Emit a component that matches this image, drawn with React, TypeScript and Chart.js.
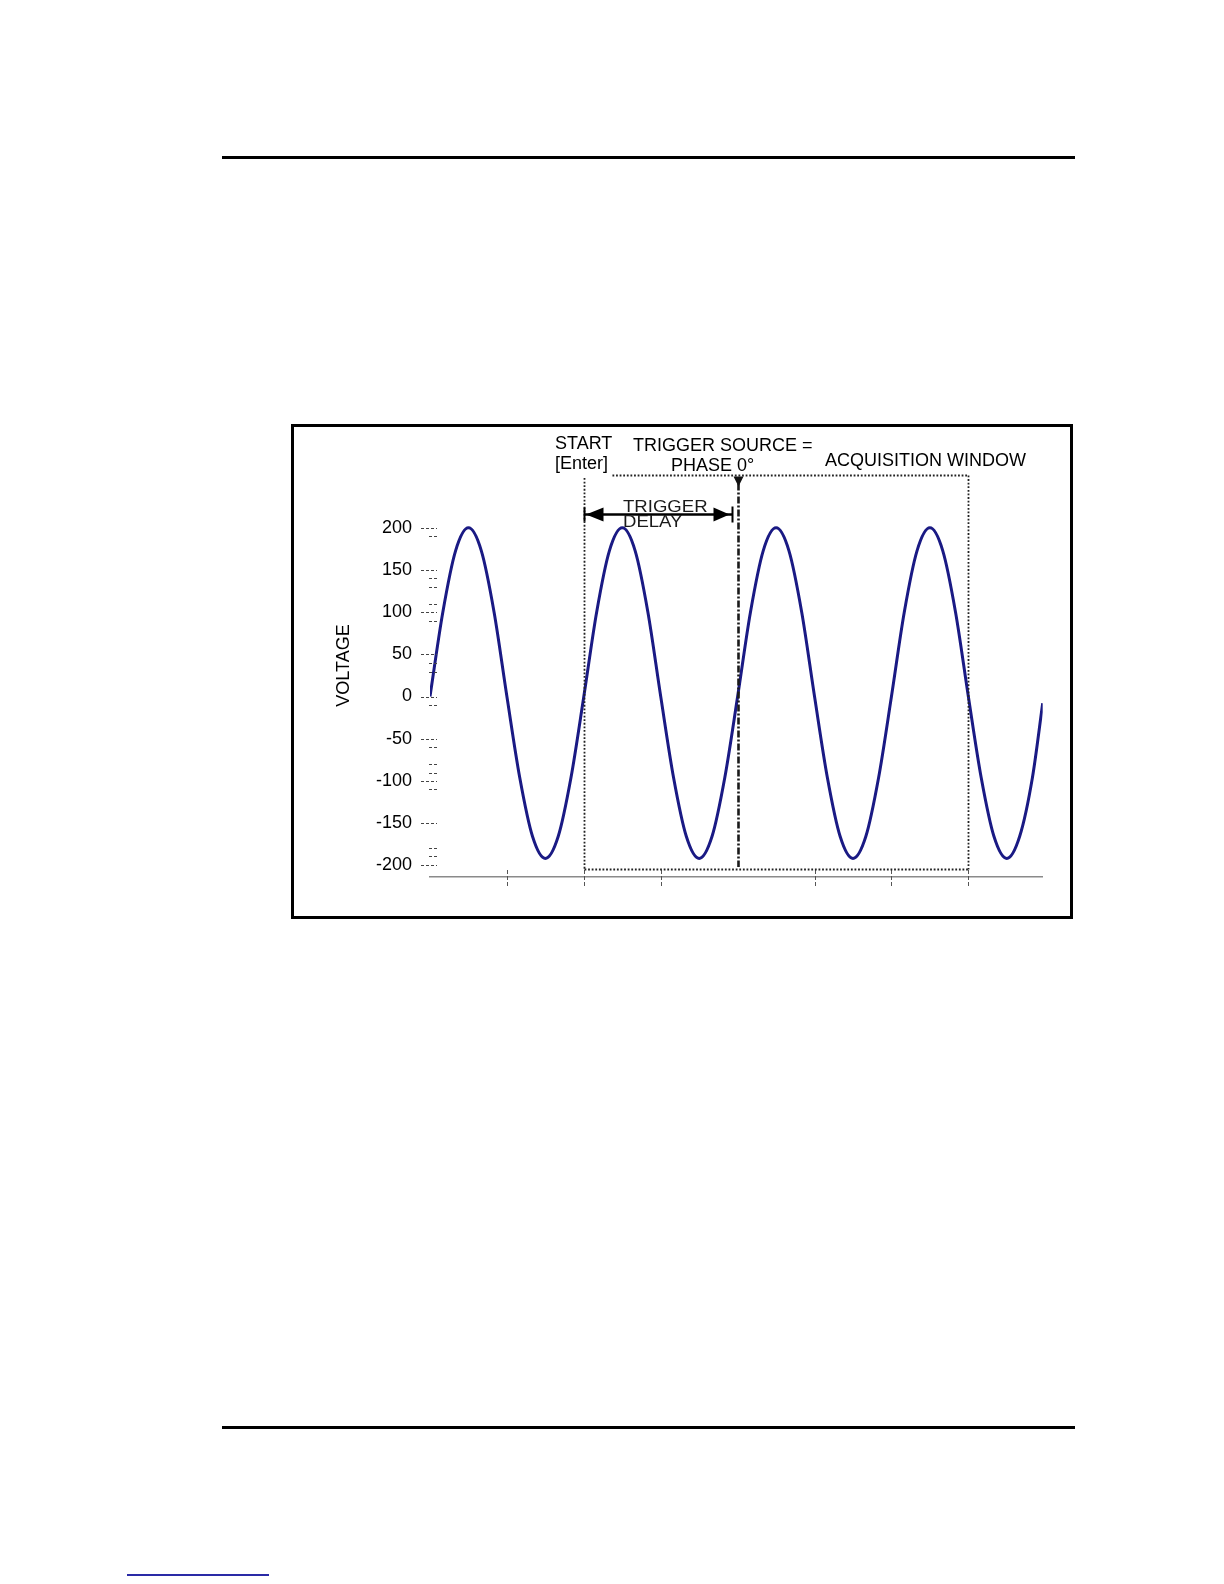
import React, { useEffect, useRef } from 'react';
import { Chart, registerables } from 'chart.js';

Chart.register(...registerables);

// ---- data ----
const phaseDeg = [
  0, 30, 60, 90, 120, 150, 180, 210, 240, 270, 300, 330,
  360, 390, 420, 450, 480, 510, 540, 570, 600, 630, 660, 690,
  720, 750, 780, 810, 840, 870, 900, 930, 960, 990, 1020, 1050,
  1080, 1110, 1140, 1170, 1200, 1230, 1260, 1290, 1320, 1350, 1380, 1410,
  1434,
];
const voltage = [
  0, 100, 173, 200, 173, 100, 0, -96, -166, -192, -166, -96,
  0, 100, 173, 200, 173, 100, 0, -96, -166, -192, -166, -96,
  0, 100, 173, 200, 173, 100, 0, -96, -166, -192, -166, -96,
  0, 100, 173, 200, 173, 100, 0, -96, -166, -192, -166, -96,
  -8,
];
const yTickValues = [200, 150, 100, 50, 0, -50, -100, -150, -200];
const xTickValues = [180, 360, 540, 900, 1080, 1260];

const xMax = 1434;
const windowStartDeg = 360;
const windowEndDeg = 1260;
const triggerDeg = 720;
const windowTopValue = 263;
const windowLeftTopValue = 259;
const windowBottomValue = -204;
const triggerBottomValue = -202;
const delayArrowValue = 216;
const windowTopStartDeg = 427;

// small extra dashes next to the y ticks (pixel offsets), as in the picture
const yMinorOffsets = [[8], [8, 17], [-8, 9], [9, 18], [8], [8], [-17, -8, 8], [], [-17, -9]];

const FONT = '"Liberation Sans", Arial, Helvetica, sans-serif';

const annotationPlugin = {
  id: 'triggerAnnotations',
  afterDraw(chart: any) {
    const ctx: CanvasRenderingContext2D = chart.ctx;
    const xs = chart.scales.x;
    const ys = chart.scales.y;
    const px = (v: number) => xs.getPixelForValue(v);
    const py = (v: number) => ys.getPixelForValue(v);
    const line = (x1: number, y1: number, x2: number, y2: number) => {
      ctx.beginPath();
      ctx.moveTo(x1, y1);
      ctx.lineTo(x2, y2);
      ctx.stroke();
    };
    ctx.save();

    // y-axis dashed tick stubs
    ctx.strokeStyle = '#444';
    ctx.lineWidth = 1;
    ctx.setLineDash([3, 2]);
    const left = chart.chartArea.left;
    yTickValues.forEach((v, i) => {
      const y = Math.round(py(v)) + 0.5;
      line(left - 9, y, left + 7, y);
      (yMinorOffsets[i] || []).forEach((o) => line(left - 1, y + o, left + 7, y + o));
    });

    // x-axis dashed tick marks (crossing the axis line)
    const axisY = chart.chartArea.bottom;
    ctx.strokeStyle = '#555';
    ctx.lineWidth = 1;
    ctx.setLineDash([4, 2]);
    xTickValues.forEach((v) => {
      const x = Math.round(px(v)) + 0.5;
      line(x, axisY - 7, x, axisY + 10);
    });

    // acquisition window (dotted)
    ctx.strokeStyle = '#222';
    ctx.lineWidth = 1.8;
    ctx.setLineDash([1.8, 1.8]);
    const wl = Math.round(px(windowStartDeg)) + 0.5;
    const wr = Math.round(px(windowEndDeg)) + 0.5;
    const wt = Math.round(py(windowTopValue)) + 0.5;
    const wb = Math.round(py(windowBottomValue)) + 0.5;
    line(px(windowTopStartDeg), wt, wr, wt);
    line(wr, wt, wr, wb);
    line(wl, wb, wr, wb);
    line(wl, py(windowLeftTopValue), wl, wb);

    // trigger line (dash-dot)
    const tx = Math.round(px(triggerDeg)) + 0.5;
    ctx.strokeStyle = '#1a1a1a';
    ctx.lineWidth = 2.6;
    ctx.setLineDash([7, 2, 2, 2]);
    line(tx, wt + 8, tx, py(triggerBottomValue));
    ctx.setLineDash([]);
    // arrow head pointing down
    ctx.fillStyle = '#111';
    ctx.beginPath();
    ctx.moveTo(tx - 5, wt + 1);
    ctx.lineTo(tx + 5, wt + 1);
    ctx.lineTo(tx, wt + 11);
    ctx.closePath();
    ctx.fill();

    // trigger delay double arrow
    const ay = Math.round(py(delayArrowValue)) + 0.5;
    const aL = wl;
    const aR = tx - 6;
    ctx.strokeStyle = '#000';
    ctx.lineWidth = 2.6;
    line(aL, ay, aR, ay);
    ctx.lineWidth = 2;
    line(aL, ay - 7, aL, ay + 7);
    line(aR, ay - 8, aR, ay + 8);
    ctx.fillStyle = '#000';
    ctx.beginPath();
    ctx.moveTo(aL + 1.5, ay);
    ctx.lineTo(aL + 19, ay - 7);
    ctx.lineTo(aL + 19, ay + 7);
    ctx.closePath();
    ctx.fill();
    ctx.beginPath();
    ctx.moveTo(aR - 3, ay);
    ctx.lineTo(aR - 19, ay - 7);
    ctx.lineTo(aR - 19, ay + 7);
    ctx.closePath();
    ctx.fill();

    // texts
    ctx.fillStyle = '#000';
    ctx.textAlign = 'left';
    ctx.textBaseline = 'alphabetic';
    ctx.font = `18px ${FONT}`;
    ctx.fillText('START', 261, 21.5);
    ctx.fillText('[Enter]', 261, 42);
    ctx.fillText('TRIGGER SOURCE =', 339, 24);
    ctx.fillText('PHASE 0°', 377, 44);
    ctx.fillText('ACQUISITION WINDOW', 531, 38.5);

    ctx.fillStyle = '#1a1a1a';
    ctx.font = `16px ${FONT}`;
    ctx.save();
    ctx.translate(329, 84.5);
    ctx.scale(1.16, 1);
    ctx.fillText('TRIGGER', 0, 0);
    ctx.restore();
    ctx.save();
    ctx.translate(329, 100);
    ctx.scale(1.16, 1);
    ctx.fillText('DELAY', 0, 0);
    ctx.restore();

    // y-axis title
    ctx.fillStyle = '#000';
    ctx.font = `18px ${FONT}`;
    ctx.save();
    ctx.translate(50, 238.5);
    ctx.rotate(-Math.PI / 2);
    ctx.textAlign = 'center';
    ctx.textBaseline = 'middle';
    ctx.fillText('VOLTAGE', 0, 0);
    ctx.restore();

    ctx.restore();
  },
};

export default function App() {
  const canvasRef = useRef<HTMLCanvasElement>(null);

  useEffect(() => {
    const canvas = canvasRef.current;
    if (!canvas) return;
    const chart = new Chart(canvas, {
      type: 'line',
      data: {
        datasets: [
          {
            label: 'Voltage',
            data: phaseDeg.map((x, i) => ({ x, y: voltage[i] })),
            borderColor: '#1a1a84',
            borderWidth: 3,
            pointRadius: 0,
            fill: false,
            cubicInterpolationMode: 'monotone',
          },
        ],
      },
      options: {
        animation: false,
        responsive: false,
        devicePixelRatio: 1,
        events: [],
        layout: { padding: { left: 0, right: 27.3, top: 89, bottom: 0 } },
        plugins: {
          legend: { display: false },
          tooltip: { enabled: false },
          title: { display: false },
        },
        scales: {
          x: {
            type: 'linear',
            min: 0,
            max: xMax,
            afterBuildTicks: (scale: any) => {
              scale.ticks = xTickValues.map((v) => ({ value: v }));
            },
            afterFit: (scale: any) => {
              scale.height = 39;
            },
            ticks: { display: false },
            grid: { display: false, drawTicks: false },
            border: { display: true, color: '#8a8a8a', width: 1.5 },
          },
          y: {
            type: 'linear',
            min: -214,
            max: 214,
            afterBuildTicks: (scale: any) => {
              scale.ticks = yTickValues.map((v) => ({ value: v }));
            },
            afterFit: (scale: any) => {
              scale.width = 136;
            },
            ticks: {
              color: '#000',
              padding: 18,
              font: { size: 18, family: FONT },
            },
            grid: { display: false, drawTicks: false },
            border: { display: false },
          },
        },
      },
      plugins: [annotationPlugin],
    } as any);
    return () => chart.destroy();
  }, []);

  return (
    <div style={{ position: 'absolute', left: 0, top: 0, width: 1224, height: 1584, background: '#fff' }}>
      <div style={{ position: 'absolute', left: 222, top: 155.5, width: 853, height: 3.5, background: '#000' }} />
      <div
        style={{
          position: 'absolute',
          left: 291,
          top: 424,
          width: 782,
          height: 495,
          border: '3px solid #000',
          boxSizing: 'border-box',
        }}
      />
      <canvas
        ref={canvasRef}
        width={776}
        height={489}
        style={{ position: 'absolute', left: 294, top: 427, width: 776, height: 489 }}
      />
      <div style={{ position: 'absolute', left: 222, top: 1426, width: 853, height: 3, background: '#000' }} />
      <div style={{ position: 'absolute', left: 127, top: 1574, width: 142, height: 2, background: '#2a2aa6' }} />
    </div>
  );
}
